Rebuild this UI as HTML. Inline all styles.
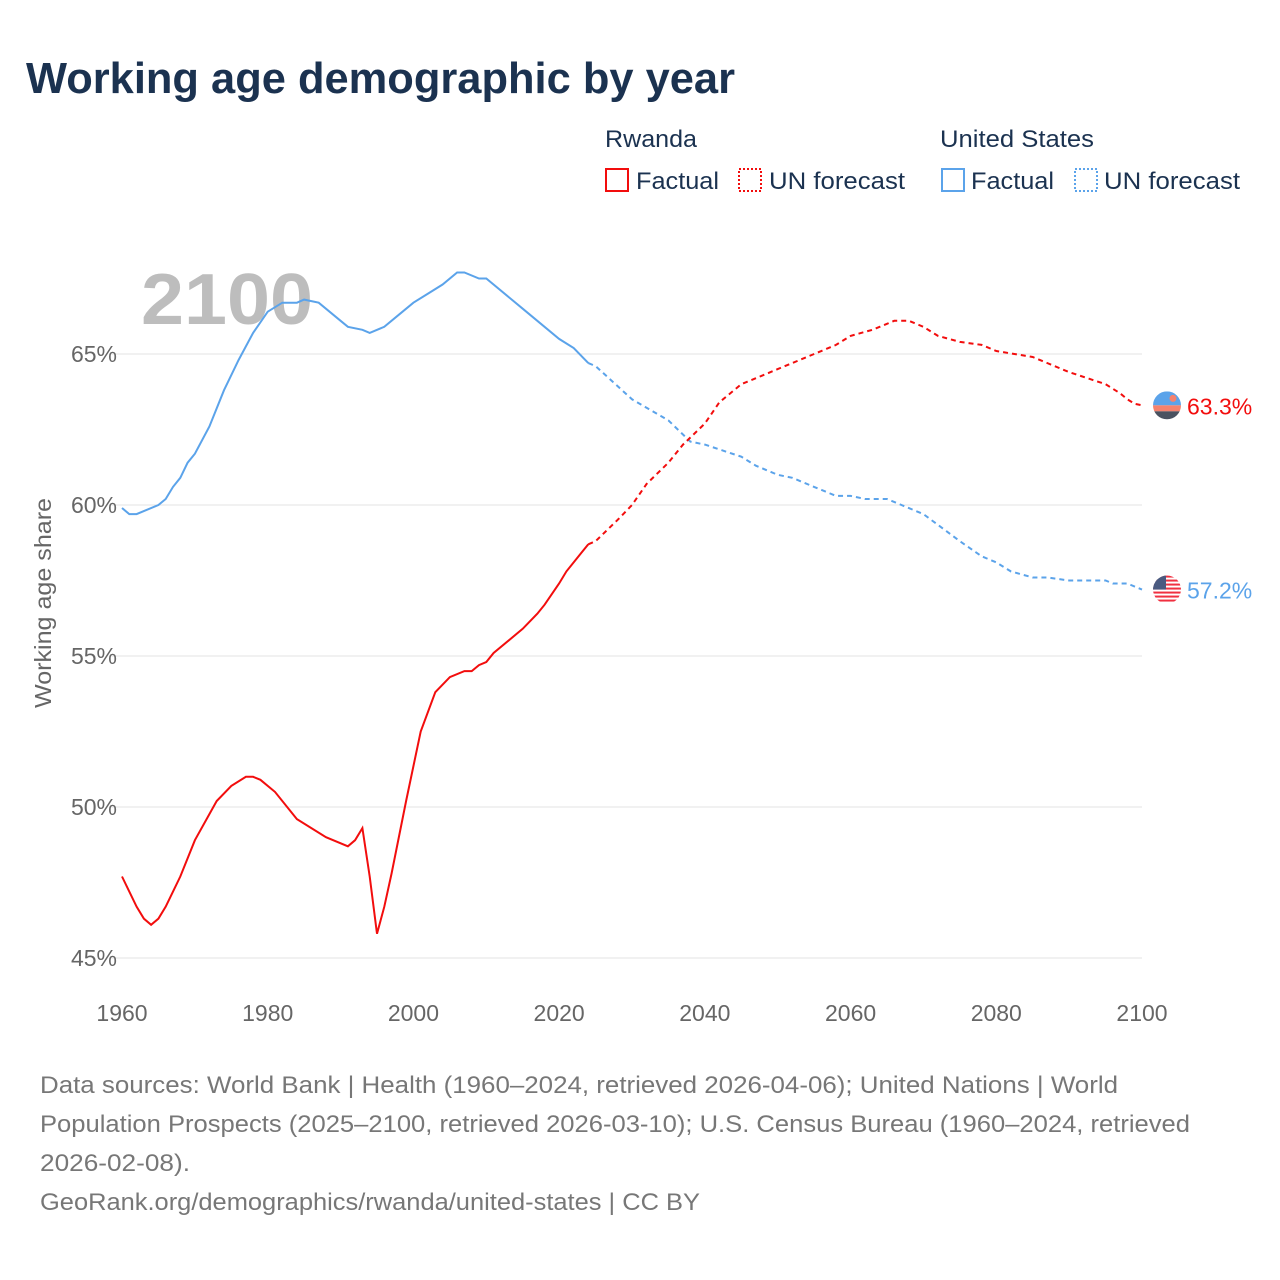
<!DOCTYPE html>
<html><head><meta charset="utf-8">
<style>
body{margin:0;background:#fff;font-family:"Liberation Sans",sans-serif;}
#wrap{position:relative;width:1280px;height:1280px;overflow:hidden;}
svg text{font-family:"Liberation Sans",sans-serif;}
</style></head>
<body>
<div id="wrap">
<svg id="chart" width="1280" height="1280">
<text x="26" y="93" font-size="44" font-weight="bold" fill="#1b3250" textLength="709" lengthAdjust="spacingAndGlyphs">Working age demographic by year</text>
<g>
<text x="605" y="147" font-size="24" fill="#1b3250" textLength="92" lengthAdjust="spacingAndGlyphs">Rwanda</text>
<rect x="606" y="169" width="22" height="22" fill="none" stroke="#f20d0d" stroke-width="2"/>
<text x="636" y="189" font-size="24" fill="#1b3250" textLength="83" lengthAdjust="spacingAndGlyphs">Factual</text>
<rect x="739" y="169" width="22" height="22" fill="none" stroke="#f20d0d" stroke-width="2" stroke-dasharray="2,2"/>
<text x="769" y="189" font-size="24" fill="#1b3250" textLength="136" lengthAdjust="spacingAndGlyphs">UN forecast</text>
<text x="940" y="147" font-size="24" fill="#1b3250" textLength="154" lengthAdjust="spacingAndGlyphs">United States</text>
<rect x="942" y="169" width="22" height="22" fill="none" stroke="#5ba3ea" stroke-width="2"/>
<text x="971" y="189" font-size="24" fill="#1b3250" textLength="83" lengthAdjust="spacingAndGlyphs">Factual</text>
<rect x="1075" y="169" width="22" height="22" fill="none" stroke="#5ba3ea" stroke-width="2" stroke-dasharray="2,2"/>
<text x="1104" y="189" font-size="24" fill="#1b3250" textLength="136" lengthAdjust="spacingAndGlyphs">UN forecast</text>
</g>
<text x="141" y="324" font-size="72" font-weight="bold" fill="#bdbdbd" textLength="172" lengthAdjust="spacingAndGlyphs">2100</text>
<text transform="translate(51,603) rotate(-90)" text-anchor="middle" font-size="23" fill="#666" textLength="210" lengthAdjust="spacingAndGlyphs">Working age share</text>
<g id="grid"></g><g id="lines"></g><g id="marks"></g>
<g font-size="24" fill="#777">
<text x="40" y="1093" textLength="1078" lengthAdjust="spacingAndGlyphs">Data sources: World Bank | Health (1960–2024, retrieved 2026-04-06); United Nations | World</text>
<text x="40" y="1132" textLength="1150" lengthAdjust="spacingAndGlyphs">Population Prospects (2025–2100, retrieved 2026-03-10); U.S. Census Bureau (1960–2024, retrieved</text>
<text x="40" y="1171" textLength="150" lengthAdjust="spacingAndGlyphs">2026-02-08).</text>
<text x="40" y="1210" textLength="660" lengthAdjust="spacingAndGlyphs">GeoRank.org/demographics/rwanda/united-states | CC BY</text>
</g>
</svg>
</div>
<script>
const xTicks=[1960,1980,2000,2020,2040,2060,2080,2100];
const yTicks=[45,50,55,60,65];
const usYears=[1960,1961,1962,1965,1966,1967,1968,1969,1970,1972,1974,1976,1978,1980,1982,1984,1985,1987,1990,1991,1993,1994,1996,1998,2000,2002,2004,2006,2007,2009,2010,2015,2020,2022,2024];
const usValues=[59.9,59.7,59.7,60.0,60.2,60.6,60.9,61.4,61.7,62.6,63.8,64.8,65.7,66.4,66.7,66.7,66.8,66.7,66.1,65.9,65.8,65.7,65.9,66.3,66.7,67.0,67.3,67.7,67.7,67.5,67.5,66.5,65.5,65.2,64.7];
const usFcYears=[2024,2025,2030,2035,2038,2040,2045,2047,2050,2052,2055,2058,2060,2062,2065,2070,2075,2078,2080,2082,2085,2087,2090,2095,2096,2098,2100];
const usFcValues=[64.7,64.6,63.5,62.8,62.1,62.0,61.6,61.3,61.0,60.9,60.6,60.3,60.3,60.2,60.2,59.7,58.8,58.3,58.1,57.8,57.6,57.6,57.5,57.5,57.4,57.4,57.2];
const rwYears=[1960,1962,1963,1964,1965,1966,1968,1970,1973,1975,1977,1978,1979,1981,1984,1988,1991,1992,1993,1994,1995,1996,1997,1999,2001,2003,2005,2007,2008,2009,2010,2011,2015,2017,2018,2020,2021,2023,2024];
const rwValues=[47.7,46.7,46.3,46.1,46.3,46.7,47.7,48.9,50.2,50.7,51.0,51.0,50.9,50.5,49.6,49.0,48.7,48.9,49.3,47.7,45.8,46.7,47.8,50.2,52.5,53.8,54.3,54.5,54.5,54.7,54.8,55.1,55.9,56.4,56.7,57.4,57.8,58.4,58.7];
const rwFcYears=[2024,2025,2028,2030,2032,2035,2037,2040,2042,2045,2047,2050,2055,2058,2060,2063,2065,2066,2068,2070,2072,2075,2078,2080,2085,2088,2090,2095,2097,2098,2099,2100];
const rwFcValues=[58.7,58.8,59.5,60.0,60.7,61.4,62.0,62.7,63.4,64.0,64.2,64.5,65.0,65.3,65.6,65.8,66.0,66.1,66.1,65.9,65.6,65.4,65.3,65.1,64.9,64.6,64.4,64.0,63.7,63.5,63.35,63.3];

const NS="http://www.w3.org/2000/svg";
const x=y=>122+(y-1960)*(1142-122)/140;
const yv=v=>958-(v-45)*(958-354)/20;
function mk(tag,attrs,parent,text){const e=document.createElementNS(NS,tag);for(const k in attrs)e.setAttribute(k,attrs[k]);if(text!==undefined)e.textContent=text;parent.appendChild(e);return e;}
const grid=document.getElementById('grid'),lines=document.getElementById('lines'),marks=document.getElementById('marks');
yTicks.forEach(t=>{
  const l=mk('line',{x1:110,x2:1142,y1:yv(t),y2:yv(t),stroke:'#e3e3e3','stroke-width':1},grid);
  
  
  const tx=mk('text',{x:117,y:yv(t)+8,'text-anchor':'end','font-size':23,fill:'#666'},grid,t+'%');
  
  
});
xTicks.forEach(t=>{
  const tx=mk('text',{x:x(t),y:1021,'text-anchor':'middle','font-size':23,fill:'#666'},grid,String(t));
  
  
});
function path(xs,vs){return xs.map((a,i)=>(i?'L':'M')+x(a).toFixed(1)+','+yv(vs[i]).toFixed(1)).join(' ');}
const p1=mk('path',{d:path(usYears,usValues),fill:'none',stroke:'#5ba3ea','stroke-width':2},lines);


const p2=mk('path',{d:path(usFcYears,usFcValues),fill:'none',stroke:'#5ba3ea','stroke-width':2,'stroke-dasharray':'5,4'},lines);


const p3=mk('path',{d:path(rwYears,rwValues),fill:'none',stroke:'#f20d0d','stroke-width':2},lines);


const p4=mk('path',{d:path(rwFcYears,rwFcValues),fill:'none',stroke:'#f20d0d','stroke-width':2,'stroke-dasharray':'5,4'},lines);



const rwEnd=rwFcValues[rwFcValues.length-1], usEnd=usFcValues[usFcValues.length-1];
const cx=1167;
let cy=yv(rwEnd);
mk('defs',{},marks).innerHTML='<clipPath id="c1"><circle cx="'+cx+'" cy="'+cy+'" r="14"/></clipPath><clipPath id="c2"><circle cx="'+cx+'" cy="'+yv(usEnd)+'" r="14"/></clipPath>';
const f1=mk('g',{'clip-path':'url(#c1)'},marks);


mk('rect',{x:cx-14,y:cy-14,width:28,height:14,fill:'#5ba3ea'},f1);
mk('rect',{x:cx-14,y:cy,width:28,height:6,fill:'#f5826e'},f1);
mk('rect',{x:cx-14,y:cy+6,width:28,height:8,fill:'#4a5260'},f1);
mk('circle',{cx:cx+6,cy:cy-7,r:3.5,fill:'#f5826e'},f1);
const l1=mk('text',{x:1187,y:cy+9,'font-size':23,fill:'#f20d0d'},marks,rwEnd.toFixed(1)+'%');


cy=yv(usEnd);
const f2=mk('g',{'clip-path':'url(#c2)'},marks);


for(let i=0;i<7;i++)mk('rect',{x:cx-14,y:cy-14+i*4,width:28,height:2,fill:'#f03040'},f2);
mk('rect',{x:cx-14,y:cy-14,width:13,height:14,fill:'#4a5a80'},f2);
const l2=mk('text',{x:1187,y:cy+9,'font-size':23,fill:'#5ba3ea'},marks,usEnd.toFixed(1)+'%');


</script>
</body></html>
